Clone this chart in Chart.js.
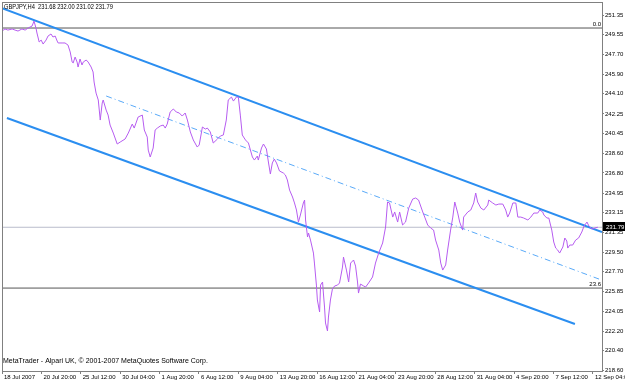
<!DOCTYPE html>
<html>
<head>
<meta charset="utf-8">
<script src="https://cdn.jsdelivr.net/npm/chart.js@4/dist/chart.umd.min.js"></script>
<style>
  html, body { margin: 0; padding: 0; background: #fff; }
  #wrap { position: relative; width: 625px; height: 382px; }
</style>
</head>
<body>
<div id="wrap"><canvas id="chart" width="625" height="382"></canvas></div>
<script>
// GBPJPY H4 closes, x = bar number counted from 18 Jul 2007
const priceBar = [0, 1.2, 2.4, 4.1, 5.3, 6.5, 8.1, 9.4, 10.6, 12.2, 13.0, 13.8, 14.2, 15.1, 15.9, 16.7, 17.9, 18.7, 19.9, 20.7,
  21.6, 22.4, 22.8, 24.4, 25.6, 26.8, 27.7, 28.5, 28.9, 29.7, 30.5, 30.9, 31.7, 32.5, 33.0, 34.2, 35.0, 36.2, 37.0, 37.4,
  38.2, 39.1, 39.9, 40.7, 41.1, 42.3, 43.1, 43.9, 45.2, 46.8, 48.0, 50.0, 51.3, 52.9, 53.7, 55.3, 57.0, 57.8, 59.0, 59.4,
  60.2, 61.4, 62.2, 63.1, 64.3, 65.5, 66.3, 67.1, 68.3, 69.6, 70.8, 72.0, 73.2, 74.4, 75.3, 76.5, 77.7, 79.3, 80.1, 81.4,
  82.6, 83.4, 84.6, 85.8, 87.5, 88.7, 89.9, 91.1, 91.9, 93.2, 94.0, 95.2, 96.0, 96.8, 97.6, 98.9, 100.1, 101.7, 102.5, 103.7,
  104.1, 105.4, 106.2, 107.4, 108.2, 109.0, 109.8, 110.6, 111.5, 112.7, 114.3, 115.1, 115.9, 116.8, 118.0, 118.8, 119.6, 120.4, 121.2, 122.4,
  122.9, 123.3, 124.1, 124.5, 125.3, 126.5, 126.9, 127.7, 128.1, 129.0, 129.4, 130.2, 130.6, 131.0, 131.4, 132.2, 132.6, 133.4, 134.2, 135.1,
  136.3, 137.1, 138.3, 138.7, 139.9, 140.8, 141.6, 142.8, 143.6, 144.4, 144.8, 145.6, 146.9, 147.7, 148.9, 150.5, 151.7, 153.0, 154.6, 155.8,
  156.6, 157.4, 158.7, 159.5, 160.7, 161.5, 162.7, 163.9, 165.2, 166.8, 168.0, 169.2, 170.9, 171.7, 172.9, 174.1, 175.3, 176.1, 177.4, 178.2,
  179.0, 180.2, 181.0, 182.2, 183.1, 183.9, 185.1, 185.9, 187.1, 187.5, 189.2, 190.4, 191.6, 192.4, 193.2, 194.5, 195.7, 197.3, 197.7, 199.3,
  200.6, 201.8, 203.4, 204.6, 205.4, 206.2, 207.5, 208.7, 209.5, 210.7, 211.9, 213.6, 214.8, 216.0, 217.6, 218.4, 219.6, 220.1, 221.3, 222.1,
  223.3, 224.1, 224.9, 225.7, 226.5, 227.8, 228.6, 229.4, 229.8, 230.6, 231.8, 233.0, 234.2, 235.5, 236.4, 237.6, 238.4, 239.6, 240.8, 242.0];
const priceClose = [249.89, 250.08, 249.98, 250.08, 249.98, 249.89, 250.08, 249.98, 250.17, 250.35, 250.81, 250.17, 249.71, 248.88, 249.06, 248.69, 249.06, 249.43, 249.62, 249.34,
  249.43, 248.97, 248.79, 248.79, 248.79, 248.60, 247.96, 247.03, 246.94, 247.49, 247.03, 246.57, 247.31, 246.76, 247.03, 247.22, 247.03, 246.57, 246.11, 245.19,
  244.17, 243.53, 241.68, 243.25, 243.53, 242.60, 242.14, 241.22, 240.48, 239.47, 239.65, 239.93, 240.48, 241.31, 240.94, 241.96, 242.14, 240.76, 240.11, 238.91,
  238.27, 239.10, 240.76, 240.94, 241.13, 241.22, 240.94, 241.31, 242.42, 242.70, 242.42, 242.33, 242.05, 242.33, 241.68, 240.58, 239.84, 239.19, 239.38, 241.04,
  240.85, 240.94, 240.58, 239.56, 239.93, 240.21, 240.30, 241.68, 243.53, 243.80, 243.43, 243.80, 243.80, 242.14, 240.30, 239.84, 239.56, 238.27, 237.99, 238.36,
  237.99, 239.10, 239.47, 239.01, 237.81, 236.70, 237.72, 238.08, 237.72, 236.98, 236.79, 236.61, 236.15, 235.22, 234.58, 234.03, 233.38, 232.27, 232.92, 234.03,
  234.30, 232.46, 230.89, 231.26, 230.61, 229.41, 228.49, 226.46, 225.08, 223.97, 226.46, 226.74, 225.54, 224.43, 222.96, 222.22, 223.51, 225.08, 226.09, 226.37,
  226.46, 226.65, 228.12, 229.04, 227.84, 226.74, 228.49, 228.77, 228.21, 226.74, 225.72, 226.55, 226.37, 226.28, 226.65, 227.20, 228.49, 229.41, 230.34, 231.81,
  234.12, 234.03, 232.73, 233.20, 232.27, 233.20, 232.00, 232.27, 233.56, 234.39, 234.49, 234.30, 233.20, 232.73, 232.00, 231.72, 231.53, 230.61, 229.69, 228.49,
  227.84, 228.31, 229.69, 231.53, 232.73, 234.12, 233.10, 232.27, 231.53, 232.73, 233.20, 233.38, 234.03, 234.95, 234.12, 233.56, 233.38, 233.84, 234.30, 234.03,
  233.84, 233.93, 233.93, 233.38, 232.73, 233.10, 234.03, 234.03, 232.73, 232.73, 232.64, 232.46, 232.73, 233.10, 233.10, 233.38, 233.20, 232.92, 232.64, 232.64,
  231.53, 230.43, 229.87, 229.69, 229.41, 229.97, 230.80, 230.52, 229.87, 230.15, 230.15, 230.61, 230.80, 231.35, 231.90, 232.27, 231.90, 231.63, 231.72, 231.79];

// regression channel: end points (bar, price)
const upperBar = [0, 243.7];
const upperVal = [252.01, 231.35];
const lowerBar = [2.0, 232.7];
const lowerVal = [241.87, 222.86];
const middleBar = [42.3, 242.5];
const middleVal = [243.90, 227.01];

// fibo levels and last price
const fiboNames = ["0.0", "23.6"];
const fiboLevels = [250.17, 226.18];
const lastPrice = 231.79;

const timeTickBars = [0, 16, 32, 48, 64, 80, 96, 112, 128, 144, 160, 176, 192, 208, 224, 240];
const timeLabels = ["18 Jul 2007", "20 Jul 20:00", "25 Jul 12:00", "30 Jul 04:00", "1 Aug 20:00", "6 Aug 12:00",
  "9 Aug 04:00", "13 Aug 20:00", "16 Aug 12:00", "21 Aug 04:00", "23 Aug 20:00", "28 Aug 12:00",
  "31 Aug 04:00", "4 Sep 20:00", "7 Sep 12:00", "12 Sep 04:00"];
const priceTicks = [251.35, 249.55, 247.70, 245.90, 244.10, 242.25, 240.45, 238.60, 236.80, 234.95,
  233.15, 231.35, 229.50, 227.70, 225.85, 224.05, 222.20, 220.40, 218.60];

const titleText = "GBPJPY,H4  231.68 232.00 231.02 231.79";
const footerText = "MetaTrader - Alpari UK, \u00a9 2001-2007 MetaQuotes Software Corp.";

const X_MAX = 243.7;
const FONT = '"Liberation Sans", Arial, sans-serif';

const pts = (xs, ys) => xs.map((x, i) => ({ x: x, y: ys[i] }));
const flat = (v) => [{ x: 0, y: v }, { x: X_MAX, y: v }];

const lineBase = { pointRadius: 0, tension: 0, fill: false };

const datasets = [
  { ...lineBase, data: pts(priceBar, priceClose), borderColor: "#b65cf0", borderWidth: 1, order: 0 },
  { ...lineBase, data: pts(upperBar, upperVal), borderColor: "#2b8ef0", borderWidth: 2, order: 1 },
  { ...lineBase, data: pts(lowerBar, lowerVal), borderColor: "#2b8ef0", borderWidth: 2, order: 1 },
  { ...lineBase, data: pts(middleBar, middleVal), borderColor: "#5aaaf8", borderWidth: 1, borderDash: [6, 3, 1, 3], order: 1 },
  { ...lineBase, data: flat(fiboLevels[0]), borderColor: "#555555", borderWidth: 1, order: 2 },
  { ...lineBase, data: flat(fiboLevels[1]), borderColor: "#555555", borderWidth: 1, order: 2 },
  { ...lineBase, data: flat(lastPrice), borderColor: "#b9bccb", borderWidth: 1, order: 3 },
];

const extras = {
  id: "extras",
  afterDraw(chart) {
    const { ctx, chartArea: a } = chart;
    const y = chart.scales.y;
    ctx.save();
    // frame
    ctx.strokeStyle = "#808080";
    ctx.lineWidth = 1;
    ctx.strokeRect(a.left + 0.5, a.top + 0.5, a.right - a.left, a.bottom - a.top);

    ctx.fillStyle = "#000";
    ctx.textBaseline = "middle";
    ctx.textAlign = "left";
    ctx.font = "7px " + FONT;
    ctx.fillText(titleText, 4, 7, 109);
    ctx.fillText(footerText, 3, 361, 236);

    // fibo level names
    ctx.textAlign = "right";
    ctx.textBaseline = "bottom";
    ctx.font = "6px " + FONT;
    fiboLevels.forEach((lv, i) => {
      ctx.fillText(fiboNames[i], a.right - 1, y.getPixelForValue(lv) - 0.5);
    });

    // last price marker
    const py = Math.round(y.getPixelForValue(lastPrice));
    ctx.fillStyle = "#000";
    ctx.fillRect(a.right + 1, py - 5, chart.width - a.right - 1, 9);
    ctx.fillStyle = "#fff";
    ctx.textAlign = "left";
    ctx.textBaseline = "middle";
    ctx.fillText(lastPrice.toFixed(2), a.right + 4, py);
    ctx.restore();
  },
};

new Chart(document.getElementById("chart"), {
  type: "line",
  data: { datasets: datasets },
  plugins: [extras],
  options: {
    responsive: false,
    animation: false,
    events: [],
    layout: { padding: { left: 2, top: 2, right: 0, bottom: 0 } },
    plugins: { legend: { display: false }, tooltip: { enabled: false }, title: { display: false } },
    scales: {
      x: {
        type: "linear",
        min: 0,
        max: X_MAX,
        afterBuildTicks: (scale) => { scale.ticks = timeTickBars.map((v) => ({ value: v })); },
        afterFit: (scale) => { scale.height = 11; scale.paddingLeft = 0; scale.paddingRight = 0; },
        ticks: {
          callback: (v, i) => timeLabels[i],
          autoSkip: false,
          maxRotation: 0,
          align: "start",
          labelOffset: 2,
          padding: 0,
          color: "#000",
          font: { family: FONT, size: 6 },
        },
        grid: { drawOnChartArea: false, drawTicks: true, tickLength: 3, color: "#808080" },
        border: { display: true, color: "#808080" },
      },
      y: {
        type: "linear",
        position: "right",
        min: 218.53,
        max: 252.57,
        afterBuildTicks: (scale) => { scale.ticks = priceTicks.map((v) => ({ value: v })); },
        afterFit: (scale) => { scale.width = 23; scale.paddingTop = 0; scale.paddingBottom = 0; },
        ticks: {
          callback: (v) => Number(v).toFixed(2),
          autoSkip: false,
          padding: 1,
          color: "#000",
          font: { family: FONT, size: 6 },
        },
        grid: { drawOnChartArea: false, drawTicks: true, tickLength: 2, color: "#808080" },
        border: { display: true, color: "#808080" },
      },
    },
  },
});
</script>
</body>
</html>
